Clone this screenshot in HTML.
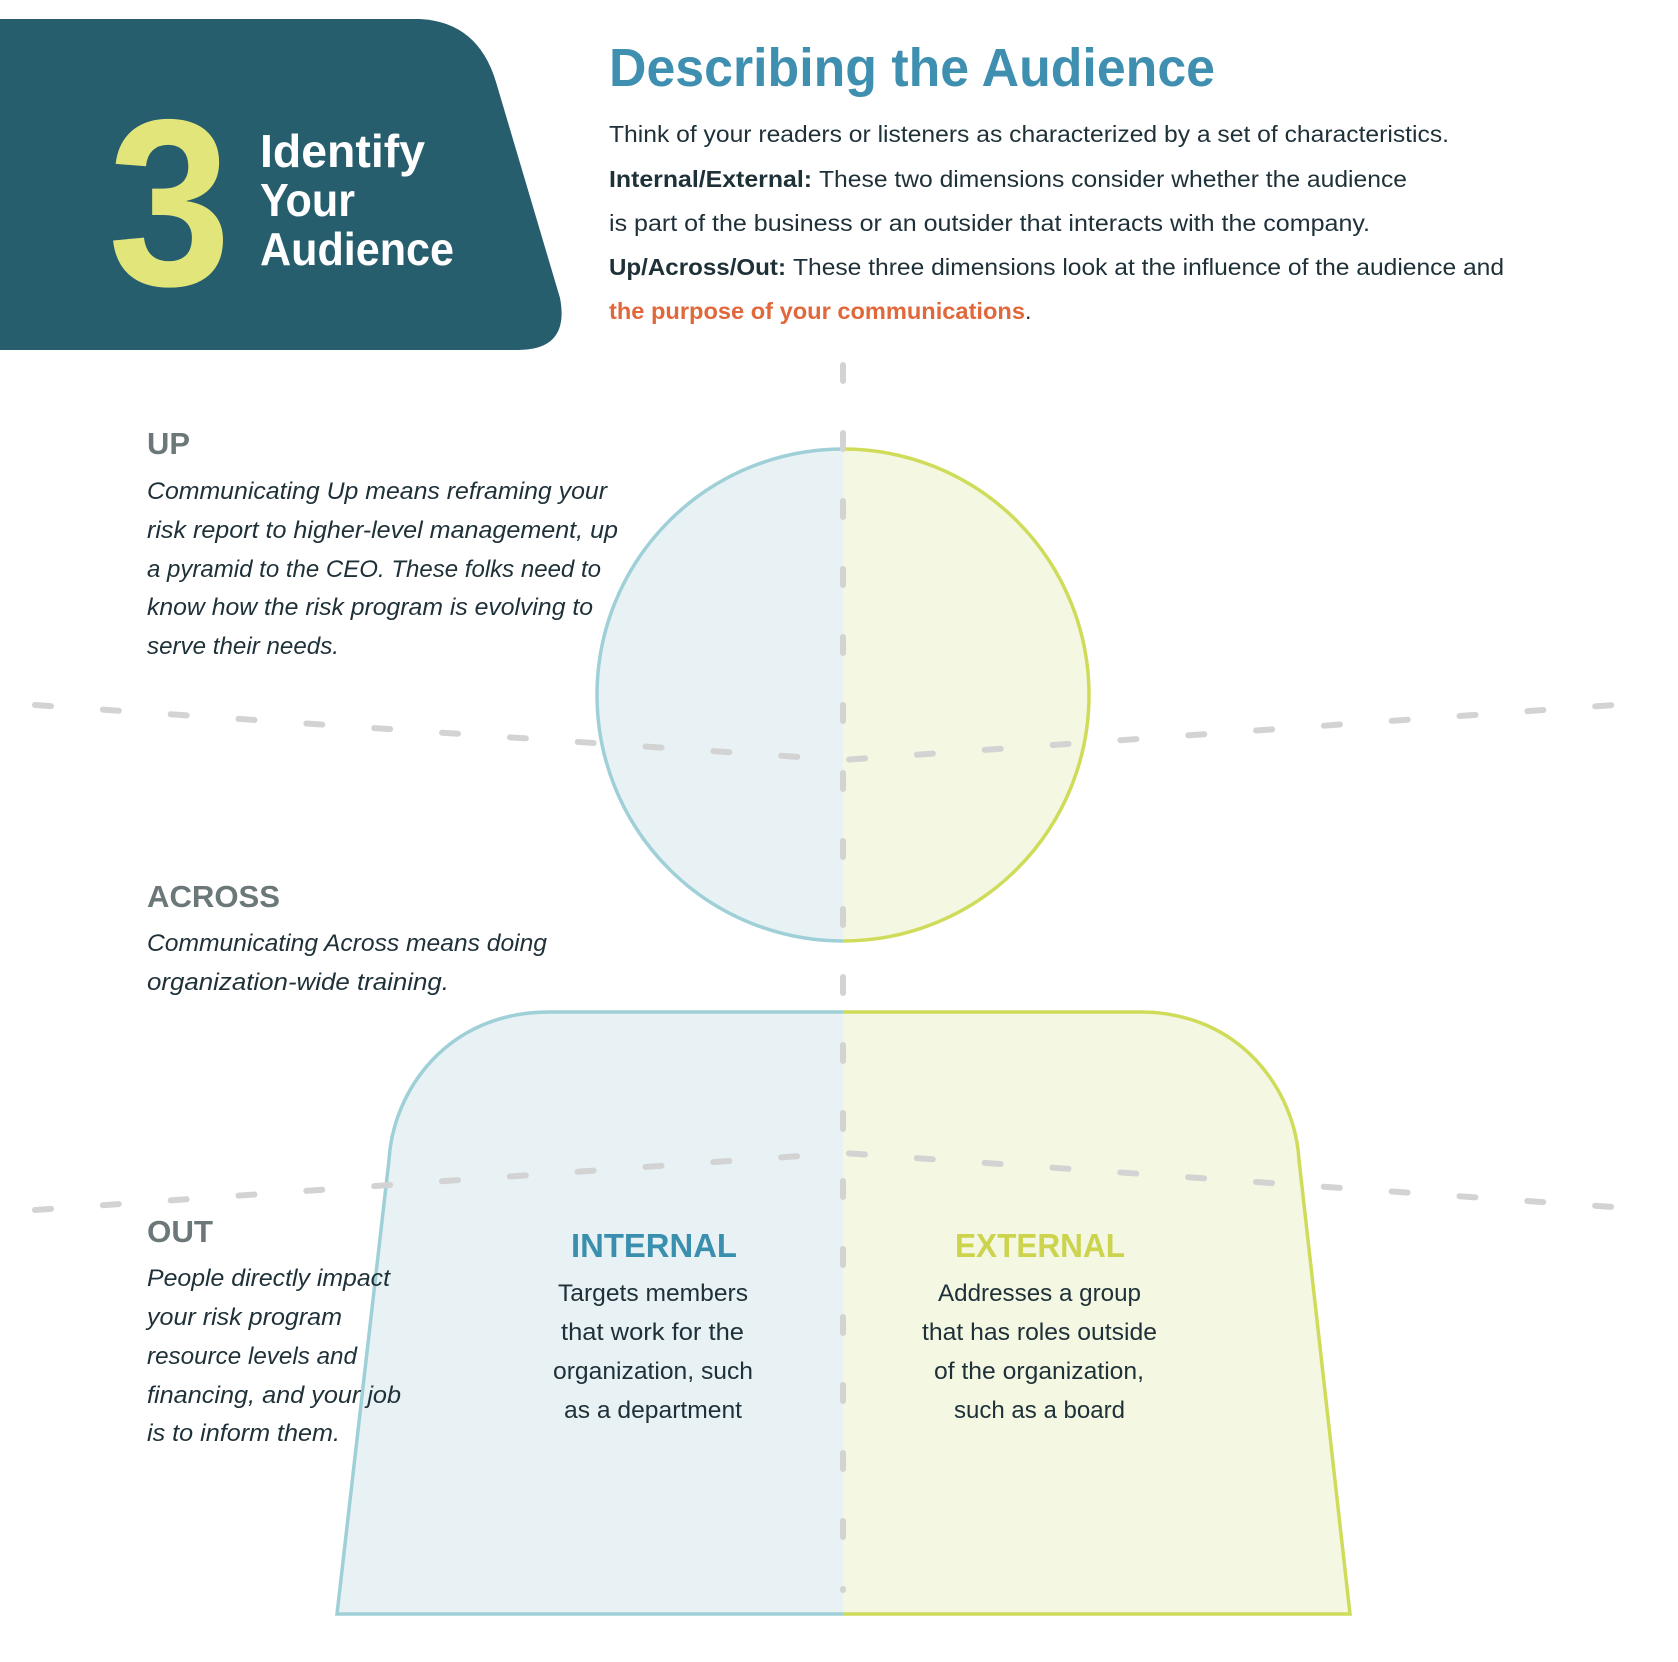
<!DOCTYPE html>
<html><head><meta charset="utf-8"><style>
html,body{margin:0;padding:0;background:#fff;}
svg{display:block;}
text{font-family:"Liberation Sans",sans-serif;}
.p{font-size:23px;fill:#1e3038;}
.b{font-weight:bold;}
.i{font-style:italic;font-size:24px;fill:#1e3038;}
.h{font-weight:bold;font-size:31px;fill:#6b7778;}
.c{font-size:24px;fill:#1e3038;}
</style></head><body>
<svg width="1678" height="1662" viewBox="0 0 1678 1662" xmlns="http://www.w3.org/2000/svg">
<defs>
<clipPath id="L"><rect x="0" y="0" width="843" height="1662"/></clipPath>
<clipPath id="R"><rect x="843" y="0" width="835" height="1662"/></clipPath>
</defs>
<!-- panel -->
<path d="M0 19 L420 19 Q478 22 496 82 L560 298 Q570 350 518 350 L0 350 Z" fill="#275e6e"/>
<text x="108" y="285" font-size="238" font-weight="bold" fill="#e2e57a" textLength="123" lengthAdjust="spacingAndGlyphs">3</text>
<text x="260" y="167" font-size="46" font-weight="bold" fill="#fff" textLength="165" lengthAdjust="spacingAndGlyphs">Identify</text>
<text x="260" y="216" font-size="46" font-weight="bold" fill="#fff" textLength="95" lengthAdjust="spacingAndGlyphs">Your</text>
<text x="260" y="265" font-size="46" font-weight="bold" fill="#fff" textLength="194" lengthAdjust="spacingAndGlyphs">Audience</text>
<!-- title & paragraph -->
<text x="609" y="86" font-size="54" font-weight="bold" fill="#3f8fb0" textLength="606" lengthAdjust="spacingAndGlyphs">Describing the Audience</text>
<text class="p" x="609" y="142" textLength="840" lengthAdjust="spacingAndGlyphs">Think of your readers or listeners as characterized by a set of characteristics.</text>
<text class="p b" x="609" y="187" textLength="203" lengthAdjust="spacingAndGlyphs">Internal/External:</text>
<text class="p" x="819" y="187" textLength="588" lengthAdjust="spacingAndGlyphs">These two dimensions consider whether the audience</text>
<text class="p" x="609" y="231" textLength="761" lengthAdjust="spacingAndGlyphs">is part of the business or an outsider that interacts with the company.</text>
<text class="p b" x="609" y="275" textLength="177" lengthAdjust="spacingAndGlyphs">Up/Across/Out:</text>
<text class="p" x="793" y="275" textLength="711" lengthAdjust="spacingAndGlyphs">These three dimensions look at the influence of the audience and</text>
<text class="p b" x="609" y="319" fill="#e0683a" style="fill:#e0683a" textLength="416" lengthAdjust="spacingAndGlyphs">the purpose of your communications</text>
<text class="p" x="1025" y="319">.</text>
<!-- circle -->
<circle cx="843" cy="695" r="246" fill="#e8f1f3" stroke="#9fd0d8" stroke-width="3.5" clip-path="url(#L)"/>
<circle cx="843" cy="695" r="246" fill="#f4f7e2" stroke="#cfdc5a" stroke-width="3.5" clip-path="url(#R)"/>
<!-- body -->
<path d="M549 1012 L1140 1012 C1240 1012 1295 1090 1299 1160 L1350 1614 L337 1614 L389 1160 C393 1090 448 1012 549 1012 Z" fill="#e8f1f3" stroke="#9fd0d8" stroke-width="3.5" clip-path="url(#L)"/>
<path d="M549 1012 L1140 1012 C1240 1012 1295 1090 1299 1160 L1350 1614 L337 1614 L389 1160 C393 1090 448 1012 549 1012 Z" fill="#f4f7e2" stroke="#cfdc5a" stroke-width="3.5" clip-path="url(#R)"/>
<!-- dashed lines -->
<g fill="none" stroke="#d3d3d3" stroke-width="6" stroke-linecap="round" stroke-dasharray="16 52">
<path d="M843 365 L843 1590"/>
<path d="M35 705 L843 760 L1656 702"/>
<path d="M35 1210 L843 1153 L1656 1210"/>
</g>
<!-- left texts -->
<text class="h" x="147" y="454" textLength="43" lengthAdjust="spacingAndGlyphs">UP</text>
<text class="i" x="147" y="499" textLength="460" lengthAdjust="spacingAndGlyphs">Communicating Up means reframing your</text>
<text class="i" x="147" y="538" textLength="471" lengthAdjust="spacingAndGlyphs">risk report to higher-level management, up</text>
<text class="i" x="147" y="577" textLength="454" lengthAdjust="spacingAndGlyphs">a pyramid to the CEO. These folks need to</text>
<text class="i" x="147" y="615" textLength="446" lengthAdjust="spacingAndGlyphs">know how the risk program is evolving to</text>
<text class="i" x="147" y="654" textLength="192" lengthAdjust="spacingAndGlyphs">serve their needs.</text>
<text class="h" x="147" y="907" textLength="133" lengthAdjust="spacingAndGlyphs">ACROSS</text>
<text class="i" x="147" y="951" textLength="400" lengthAdjust="spacingAndGlyphs">Communicating Across means doing</text>
<text class="i" x="147" y="990" textLength="302" lengthAdjust="spacingAndGlyphs">organization-wide training.</text>
<text class="h" x="147" y="1242" textLength="66" lengthAdjust="spacingAndGlyphs">OUT</text>
<text class="i" x="147" y="1286" textLength="243" lengthAdjust="spacingAndGlyphs">People directly impact</text>
<text class="i" x="147" y="1325" textLength="195" lengthAdjust="spacingAndGlyphs">your risk program</text>
<text class="i" x="147" y="1364" textLength="210" lengthAdjust="spacingAndGlyphs">resource levels and</text>
<text class="i" x="147" y="1403" textLength="254" lengthAdjust="spacingAndGlyphs">financing, and your job</text>
<text class="i" x="147" y="1441" textLength="193" lengthAdjust="spacingAndGlyphs">is to inform them.</text>
<!-- internal / external -->
<text x="571" y="1257" font-size="33" font-weight="bold" fill="#3b8fae" textLength="166" lengthAdjust="spacingAndGlyphs">INTERNAL</text>
<text class="c" x="558" y="1301" textLength="190" lengthAdjust="spacingAndGlyphs">Targets members</text>
<text class="c" x="561" y="1340" textLength="183" lengthAdjust="spacingAndGlyphs">that work for the</text>
<text class="c" x="553" y="1379" textLength="200" lengthAdjust="spacingAndGlyphs">organization, such</text>
<text class="c" x="564" y="1418" textLength="178" lengthAdjust="spacingAndGlyphs">as a department</text>
<text x="955" y="1257" font-size="33" font-weight="bold" fill="#cbd44c" textLength="170" lengthAdjust="spacingAndGlyphs">EXTERNAL</text>
<text class="c" x="938" y="1301" textLength="203" lengthAdjust="spacingAndGlyphs">Addresses a group</text>
<text class="c" x="922" y="1340" textLength="235" lengthAdjust="spacingAndGlyphs">that has roles outside</text>
<text class="c" x="934" y="1379" textLength="210" lengthAdjust="spacingAndGlyphs">of the organization,</text>
<text class="c" x="954" y="1418" textLength="171" lengthAdjust="spacingAndGlyphs">such as a board</text>
</svg>
</body></html>
